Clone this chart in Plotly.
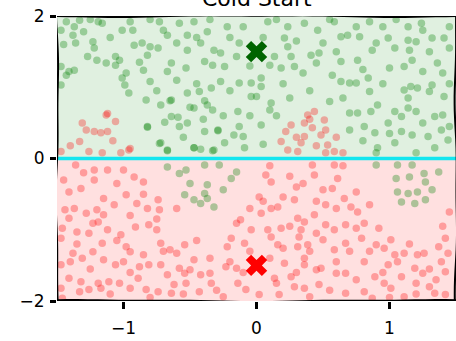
import numpy as np
import plotly.graph_objects as go

# Samples labelled "positive" (green) and "negative" (red)
green_x = [-1.43, -1.37, -1.33, -1.19, -1.16, -1.47, -1.38, -1.36, -1.23, -1.22, -1.27, -1.20, -1.13, -1.06, -1.03,
           -1.01, -0.93, -0.92, -0.86, -0.80, -0.82, -0.85, -0.98, -1.01, -0.96, -0.83, -1.47, -1.41, -1.43, -1.47,
           -1.37, -0.99, -1.06, -0.82, -0.80, -0.82, -0.73, -0.67, -0.47, -0.42, -0.33, -0.65, -0.59, -0.69, -0.50,
           -0.39, -0.29,
           -0.73, -0.58, -0.47, -0.37, -0.22, -0.67, -0.52, -0.42, -0.32, -0.27, -0.74, -0.64, -0.53, -0.39, -0.33,
           -0.24, -0.15, -0.13, -0.67, -0.52, -0.27, -0.13, -0.04, -0.52, -0.43, -0.34, -0.72, -0.64, -0.47, -0.37,
           -0.33, -0.14, -0.04, -0.64, -0.58, -0.52, -0.39, -0.29, -0.13, -0.17, -0.10, -0.72, -0.67, -0.47, -0.32,
           -0.24, -0.09,
           0.085, 0.235, 0.36, 0.46, 0.585, 0.685, 0.635, 0.21, 0.235, 0.135, 0.26, 0.10, 0.185, 0.285, 0.41, 0.47,
           0.45, 0.60, 0.635, 0.57, 0.635, 0.70, 0.035, 0.035, 0.0, 0.11, 0.10, 0.035, 0.70,
           0.85, 1.14, 1.24, 1.45, 0.775, 0.90, 0.99, 0.87, 1.04, 1.15, 1.14, 1.20, 1.32, 1.41, 1.17, 0.76, 1.00,
           1.11, 1.25, 1.36, 1.40, 0.84, 0.75, 0.85, 1.11, 1.16, 1.21, 1.14, 1.32, 1.41, 1.30, 0.91, 0.86, 1.04,
           1.14, 1.20, 1.34, 1.40, 0.76, 0.99, 1.09, 0.81, 0.89, 1.09, 1.17, 1.29, 1.39, 1.44, 1.04, 0.91, 1.20,
           1.34,
           -1.45, -1.30, -1.10, -0.95, -0.88, -0.70, -0.60, -0.45, -0.35, -0.20, -0.10, -0.05, -0.60, -0.45, -0.20,
           -0.55, -0.40, -0.25, -0.75, 0.05, 0.15, 0.30, 0.35, 0.50, 0.55, 0.75, 0.20, 0.25, 0.40, 0.55,
           0.65, 0.80, 0.95, 0.95, 1.05, 1.30, 1.25, 1.45, 1.45, 0.80, 1.00, 1.25, 0.70, 0.05, -0.05,
           0.15, -1.25, -0.80, 0.90, 1.45,
           -0.67, -0.53, -0.39, -0.28, -0.15, -0.19, -0.58, -0.50, -0.37, -0.25, -0.54, -0.47, -0.39, -0.37, -0.32,
           -0.42,
           0.90, 1.06, 1.17, 1.26, 1.37, 1.05, 1.15, 1.27, 1.06, 1.14, 1.21, 1.32, 1.09, 1.19, 1.27]
green_y = [1.92, 1.85, 1.94, 1.92, 1.90, 1.80, 1.73, 1.62, 1.64, 1.55, 1.43, 1.38, 1.34, 1.43, 1.38,
           1.80, 1.80, 1.59, 1.62, 1.57, 1.45, 1.24, 1.20, 1.13, 0.92, 0.82, 1.29, 1.22, 1.17, 1.03,
           1.24, 1.03, 1.31, 0.45, 1.08, 0.44, 0.21, 0.11, 0.15, 0.13, 0.11, 0.81, 0.58, 0.51, 0.72,
           0.81, 0.39,
           1.92, 1.90, 1.92, 1.78, 1.85, 1.73, 1.73, 1.62, 1.52, 1.48, 1.55, 1.34, 1.27, 1.36, 1.31,
           1.29, 1.43, 1.62, 1.22, 1.52, 1.08, 1.06, 1.06, 0.92, 0.94, 0.99, 0.75, 0.82, 0.71, 0.75,
           0.68, 0.66, 0.87, 0.59, 0.45, 0.50, 0.38, 0.40, 0.45, 0.33, 0.31, 0.22, 0.12, 0.15, 0.12,
           0.22, 0.15,
           1.92, 1.85, 1.90, 1.80, 1.92, 1.73, 1.71, 1.69, 1.57, 1.43, 1.43, 1.31, 1.27, 1.29, 1.45, 1.48,
           1.34, 1.50, 1.36, 1.17, 1.08, 1.06, 1.13, 1.01, 0.87, 0.78, 0.68, 0.47, 0.64,
           1.92, 1.85, 1.90, 1.85, 1.71, 1.62, 1.69, 1.52, 1.55, 1.52, 1.66, 1.64, 1.69, 1.69, 1.38, 1.38, 1.27,
           1.29, 1.22, 1.34, 1.20, 1.13, 1.06, 0.94, 0.96, 1.01, 0.99, 0.85, 1.03, 0.87, 0.94, 0.75, 0.66, 0.66,
           0.71, 0.66, 0.59, 0.61, 0.64, 0.50, 0.59, 0.45, 0.36, 0.38, 0.33, 0.31, 0.40, 0.26, 0.22, 0.15, 0.08,
           0.15,
           1.60, 1.78, 1.70, 1.92, 1.35, 1.80, 1.62, 1.70, 1.95, 1.70, 1.85, 1.30, 1.10, 1.05, 0.95,
           0.30, 0.55, 0.60, 0.95, 1.70, 1.95, 1.65, 1.20, 1.62, 1.95, 1.85, 1.05, 0.85, 0.95, 0.80,
           0.85, 1.25, 1.05, 1.85, 1.95, 1.50, 1.80, 1.05, 0.45, 0.25, 0.35, 0.50, 0.40, 0.20, 0.60,
           0.60, 1.95, 1.95, 0.08, 1.55,
           -0.12, -0.16, -0.09, -0.09, -0.19, -0.28, -0.21, -0.35, -0.37, -0.44, -0.51, -0.58, -0.49, -0.56, -0.68,
           -0.63,
           -0.09, -0.09, -0.09, -0.21, -0.19, -0.28, -0.26, -0.33, -0.47, -0.49, -0.47, -0.44, -0.61, -0.63, -0.58]

red_x = [-1.13, -1.31, -1.06, -1.22, -1.17, -1.12, -1.33, -1.47, -1.26, -1.16, -0.96, -1.02, -1.12, -0.95,
         -1.28, -1.40, -1.08,
         0.385, 0.435, 0.36, 0.42, 0.26, 0.22, 0.51, 0.52, 0.485, 0.185, 0.335, 0.36, 0.235, 0.535, 0.585, 0.65,
         0.31, 0.52, 0.30, 0.45, 0.40, 0.60,
         -1.36, -1.22, -1.12, -1.00, -0.92, -0.85, -1.41, -1.32, -1.22, -1.15, -1.07, -0.98, -0.90, -0.82, -1.44,
         -1.37, -1.28, -1.15, -1.41, -1.23, -1.19, -1.46, -1.35, -1.26, -1.12, -0.91, -0.81, -1.02, -1.47, -1.16,
         -0.98, -0.95, -1.23, -1.38, -1.31, -1.15, -1.47, -1.06, -1.00, -0.88, -0.81, -1.41, -1.32, -1.19, -1.11,
         -1.03, -0.89, -1.47, -1.33, -1.26, -1.17, -0.95, -0.83, -1.46,
         -0.74, -0.73, -0.75, -0.05, -0.15, -0.12, -0.04, -0.19, -0.09, -0.22, -0.72, -0.65, -0.60, -0.54, -0.47,
         -0.72, -0.67, -0.58, -0.54, -0.50, -0.42, -0.35, -0.62, -0.53, -0.34, -0.23, -0.15, -0.14, -0.74, -0.64,
         -0.43, -0.25, -0.08,
         0.07, 0.11, 0.02, 0.20, 0.285, 0.35, 0.42, 0.435, 0.585, 0.61, 0.57, 0.50, 0.52, 0.60, 0.66, 0.71, 0.035,
         0.11, 0.16, 0.31, 0.36, 0.435, 0.52, 0.585, 0.67, 0.085, 0.11, 0.185, 0.335, 0.32, 0.16, 0.20, 0.31,
         0.385, 0.585, 0.50, 0.67, 0.21, 0.36, 0.36, 0.45, 0.485, 0.60, 0.67, 0.135, 0.26, 0.47, 0.285, 0.36,
         0.02, 0.17, 0.40, 0.67,
         0.75, 0.76, 0.81, 0.75, 0.92, 0.79, 0.90, 0.96, 1.01, 1.04, 1.11, 1.21, 1.26, 1.37, 1.42, 1.44, 1.39,
         0.81, 0.99, 1.06, 1.19, 1.25, 1.42, 0.89, 1.09, 0.96, 1.20, 1.30, 0.81, 1.01, 1.11, 1.34, 1.42, 0.87,
         -1.30, -1.05, -0.85, -1.45, -1.20, -0.95, -1.35, -1.05, -0.85, -1.25, -0.95, -0.70, -0.80, -0.55, -0.35,
         -0.30, -0.10, -0.05, 0.10, 0.25, 0.30, 0.45, 0.05, 0.25, 0.45, 0.60, 0.10, 0.30, 0.55, 0.70,
         0.85, 1.15, 1.30, 0.95, 1.45, 1.40, 0.85, 0.65, 1.00, 1.20, -0.60, -0.75, -1.40, -1.10, 0.15,
         0.75, 1.35, 0.40, -0.20, -0.45]
red_y = [0.61, 0.50, 0.52, 0.38, 0.36, 0.38, 0.24, 0.10, 0.10, 0.08, 0.12, 0.08, 0.63, 0.14,
         0.40, 0.18, 0.25,
         0.61, 0.66, 0.50, 0.43, 0.47, 0.38, 0.54, 0.40, 0.33, 0.24, 0.22, 0.31, 0.12, 0.19, 0.10, 0.08,
         0.10, 0.08, 0.30, 0.18, 0.55, 0.30,
         -0.09, -0.16, -0.16, -0.16, -0.26, -0.33, -0.47, -0.42, -0.30, -0.56, -0.65, -0.51, -0.63, -0.70, -0.72,
         -0.70, -0.77, -0.79, -0.84, -0.91, -0.89, -0.98, -1.03, -1.05, -1.00, -0.96, -0.93, -1.07, -1.12, -1.19,
         -1.24, -1.31, -1.31, -1.33, -1.40, -1.42, -1.49, -1.49, -1.45, -1.52, -1.49, -1.68, -1.73, -1.75, -1.73,
         -1.75, -1.68, -1.82, -1.87, -1.84, -1.82, -1.82, -1.84, -1.96,
         -0.58, -0.72, -1.00, -0.70, -0.91, -0.86, -1.00, -1.12, -1.19, -1.24, -1.19, -1.28, -1.33, -1.21, -1.42,
         -1.49, -1.63, -1.54, -1.61, -1.56, -1.63, -1.61, -1.77, -1.75, -1.75, -1.52, -1.54, -1.75, -1.87, -1.89,
         -1.87, -1.94, -1.84,
         -0.23, -0.33, -0.54, -0.54, -0.58, -0.35, -0.09, -0.23, -0.09, -0.28, -0.42, -0.44, -0.65, -0.70, -0.56,
         -0.68, -0.77, -0.70, -0.68, -0.84, -0.89, -0.79, -0.93, -1.00, -0.93, -1.00, -1.10, -0.98, -1.00, -1.10,
         -1.21, -1.26, -1.24, -1.21, -1.28, -1.14, -1.19, -1.47, -1.40, -1.49, -1.56, -1.54, -1.61, -1.61, -1.68,
         -1.66, -1.77, -1.80, -1.82, -1.91, -1.91, -1.94, -1.89,
         -0.47, -0.75, -0.91, -0.98, -0.98, -1.12, -1.21, -1.26, -1.14, -1.35, -1.33, -1.35, -1.33, -1.24, -1.12,
         -1.33, -1.45, -1.45, -1.49, -1.45, -1.54, -1.61, -1.59, -1.66, -1.66, -1.75, -1.75, -1.80, -1.87, -1.82,
         -1.94, -1.89, -1.91, -1.96,
         -0.20, -0.35, -0.50, -0.30, -0.72, -0.80, -1.20, -1.15, -1.35, -1.55, -1.60, -1.30, -1.95, -1.90, -1.40,
         -1.85, -1.60, -1.30, -0.10, -0.25, -0.40, -0.60, -0.60, -0.95, -1.05, -1.45, -1.40, -1.60, -1.85, -1.30,
         -1.30, -1.20, -1.55, -1.60, -0.75, -0.95, -0.65, -0.10, -1.95, -1.90, -0.70, -0.85, -1.45, -1.90, -1.75,
         -1.70, -1.70, -1.30, -1.45, -1.15]

# Class centroids and decision boundary
centroid_pos = (0.0, 1.5)
centroid_neg = (0.0, -1.5)
boundary_y = 0.0

x_range = [-1.5, 1.5]
y_range = [-2.0, 2.0]
x_ticks = [-1, 0, 1]
y_ticks = [-2, 0, 2]
title_text = "Cold Start"

fig = go.Figure()

# Shaded half-planes for each predicted class
fig.add_shape(type="rect", x0=x_range[0], x1=x_range[1], y0=boundary_y, y1=y_range[1],
              fillcolor="rgba(0,128,0,0.12)", line_width=0, layer="below")
fig.add_shape(type="rect", x0=x_range[0], x1=x_range[1], y0=y_range[0], y1=boundary_y,
              fillcolor="rgba(255,0,0,0.12)", line_width=0, layer="below")

fig.add_trace(go.Scatter(x=green_x, y=green_y, mode="markers",
                         marker=dict(size=7.5, color="rgba(0,128,0,0.32)", line_width=0),
                         hoverinfo="skip"))
fig.add_trace(go.Scatter(x=red_x, y=red_y, mode="markers",
                         marker=dict(size=7.5, color="rgba(255,0,0,0.3)", line_width=0),
                         hoverinfo="skip"))

# Decision boundary
fig.add_trace(go.Scatter(x=x_range, y=[boundary_y, boundary_y], mode="lines",
                         line=dict(color="#12e6ef", width=3.5), hoverinfo="skip"))

# Centroids
fig.add_trace(go.Scatter(x=[centroid_pos[0]], y=[centroid_pos[1]], mode="markers",
                         marker=dict(symbol="x", size=19, color="#006400", line_width=0)))
fig.add_trace(go.Scatter(x=[centroid_neg[0]], y=[centroid_neg[1]], mode="markers",
                         marker=dict(symbol="x", size=19, color="#ff0000", line_width=0)))


# Hand-drawn looking frame
def wobbly(x0, y0, x1, y1, amp, n=40, phase=0.0):
    t = np.linspace(0, 1, n)
    wob = amp * (np.sin(2 * np.pi * (1.3 * t + phase)) + 0.5 * np.sin(2 * np.pi * (3.1 * t + 2 * phase)))
    xs = x0 + (x1 - x0) * t
    ys = y0 + (y1 - y0) * t
    if x0 == x1:
        xs = xs + wob
    else:
        ys = ys + wob
    return "M " + " L ".join(f"{a:.4f},{b:.4f}" for a, b in zip(xs, ys))


ax_amp = 0.012
ay_amp = 0.010
frame_paths = [
    wobbly(x_range[0], y_range[0], x_range[1], y_range[0], ay_amp, phase=0.1),
    wobbly(x_range[0], y_range[1], x_range[1], y_range[1], ay_amp, phase=0.6),
    wobbly(x_range[0], y_range[0], x_range[0], y_range[1], ax_amp * 0.6, phase=0.3),
    wobbly(x_range[1], y_range[0], x_range[1], y_range[1], ax_amp * 0.6, phase=0.8),
]
for p in frame_paths:
    fig.add_shape(type="path", path=p, line=dict(color="black", width=2), layer="above")

fig.add_annotation(text=title_text, xref="paper", yref="paper", x=0.5, y=1,
                   xanchor="center", yanchor="bottom", yshift=3, showarrow=False,
                   font=dict(family="DejaVu Sans", size=22, color="black"))

fig.update_xaxes(range=x_range, tickvals=x_ticks, showgrid=False, zeroline=False, showline=False,
                 ticks="outside", ticklen=7, tickwidth=3, tickcolor="black", ticklabelstandoff=5,
                 tickfont=dict(family="DejaVu Sans", size=17, color="black"))
fig.update_yaxes(range=y_range, tickvals=y_ticks, showgrid=False, zeroline=False, showline=False,
                 ticks="outside", ticklen=6, tickwidth=3, tickcolor="black", ticklabelstandoff=2,
                 tickfont=dict(family="DejaVu Sans", size=17, color="black"))

fig.update_layout(width=456, height=341, margin=dict(l=57, r=0, t=16, b=40),
                  plot_bgcolor="white", paper_bgcolor="white", showlegend=False)

fig.write_html("out.html")
